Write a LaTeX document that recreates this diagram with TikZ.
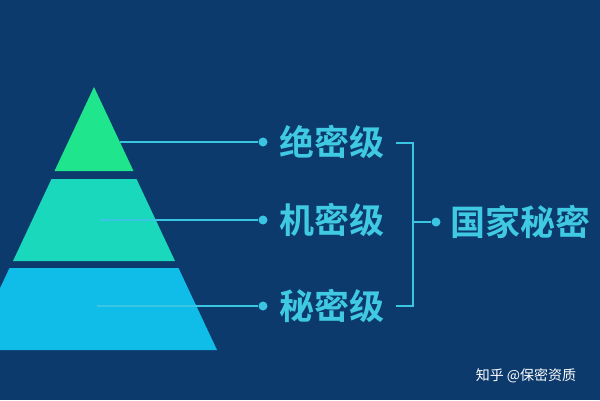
\documentclass[tikz,border=0pt]{standalone}
\usepackage{fontspec}
\newfontfamily\cjk{Noto Sans CJK SC}[BoldFont={Noto Sans CJK SC Bold}]
\definecolor{bg}{HTML}{0C3A6D}
\definecolor{tA}{HTML}{1FE68C}
\definecolor{tB}{HTML}{1AD8BC}
\definecolor{tC}{HTML}{10BCE8}
\definecolor{ln}{HTML}{3AC6E2}
\definecolor{tx}{HTML}{40C9E2}
\begin{document}
\begin{tikzpicture}[x=1pt,y=-1pt,
  lab/.style={font=\cjk\bfseries\fontsize{35}{35}\selectfont,text=tx,inner sep=0pt},
  conn/.style={draw=ln,line width=2.6pt},
  dot/.style={circle,fill=ln,inner sep=0pt,minimum size=9pt}]
\fill[bg] (0,0) rectangle (600,400);
\useasboundingbox (0,0) rectangle (600,400);
\begin{scope}
\clip (0,0) rectangle (600,400);
\fill[tA] (94,87) -- (133.5,171) -- (54.5,171) -- cycle;
\fill[tB] (51.5,179) -- (136.5,179) -- (175,261) -- (13,261) -- cycle;
\fill[tC] (9.5,268) -- (178.5,268) -- (217,350) -- (-29,350) -- cycle;
\end{scope}
\coordinate (s1) at (120,142);
\coordinate (s2) at (100,220);
\coordinate (s3) at (97,306);
\node[dot] (d1) at (263,142) {};
\node[dot] (d2) at (263,220) {};
\node[dot] (d3) at (263,306) {};
\node[lab] (t1) at (332,142) {绝密级};
\node[lab] (t2) at (332,220) {机密级};
\node[lab] (t3) at (332,306) {秘密级};
\draw[conn] (s1) -- (d1);
\draw[conn] (s2) -- (d2);
\draw[conn] (s3) -- (d3);
\coordinate (b1) at (396,143);
\coordinate (b3) at (396,306);
\coordinate (bm) at (413,222);
\node[dot] (d4) at (436,222) {};
\node[lab] (t4) at (520,222) {国家秘密};
\draw[conn] (b1) -| (bm) |- (b3);
\draw[conn] (bm) -- (d4);
\node[font=\cjk\fontsize{14}{14}\selectfont,text=white,inner sep=0pt] (wm) at (526,376) {知乎 @保密资质};
\end{tikzpicture}
\end{document}
